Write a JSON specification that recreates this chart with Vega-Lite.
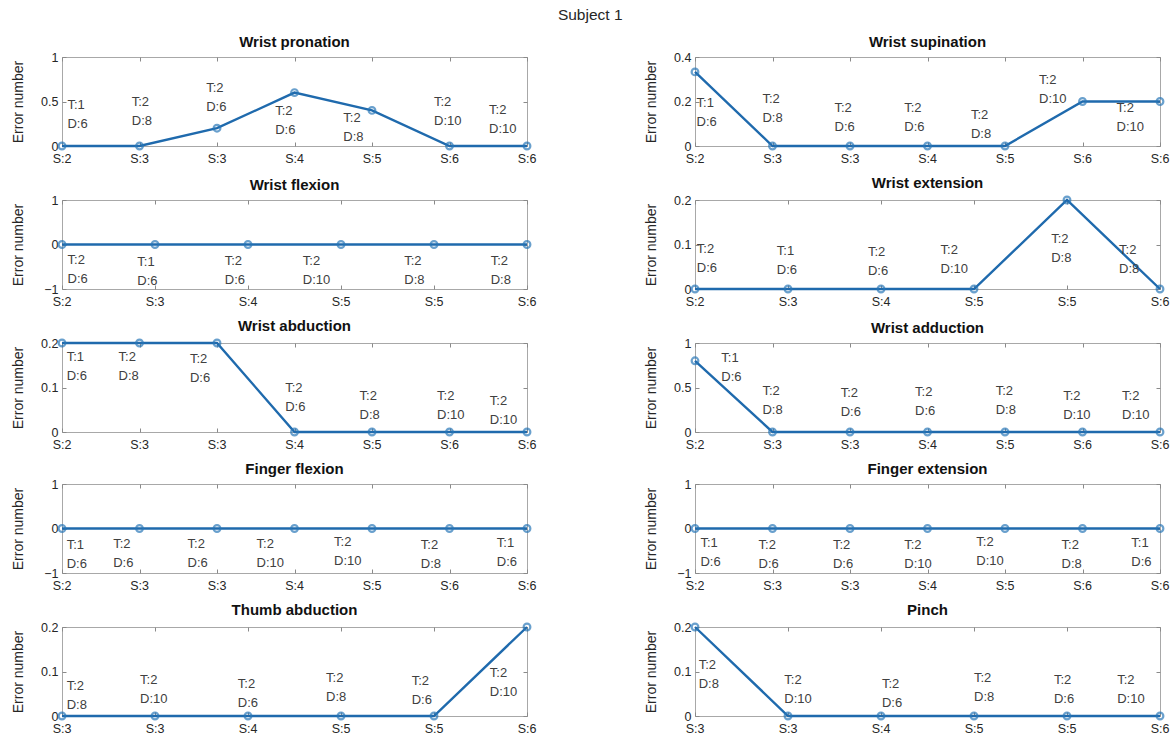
{
  "$schema": "https://vega.github.io/schema/vega-lite/v6.json",
  "padding": {"left": 10, "top": 8, "right": 0, "bottom": 0},
  "background": "white",
  "title": {"text": "Subject 1", "fontSize": 15.5, "fontWeight": "normal", "color": "#262626", "anchor": "middle", "offset": 11},
  "data": {"values": [
    {"p": "Wrist pronation", "i": 1, "s": "S:2", "v": 0, "tx": 1.07, "ty": 0.37, "lab": "T:1\nD:6"},
    {"p": "Wrist pronation", "i": 2, "s": "S:3", "v": 0, "tx": 1.9, "ty": 0.4, "lab": "T:2\nD:8"},
    {"p": "Wrist pronation", "i": 3, "s": "S:3", "v": 0.2, "tx": 2.86, "ty": 0.56, "lab": "T:2\nD:6"},
    {"p": "Wrist pronation", "i": 4, "s": "S:4", "v": 0.6, "tx": 3.75, "ty": 0.3, "lab": "T:2\nD:6"},
    {"p": "Wrist pronation", "i": 5, "s": "S:5", "v": 0.4, "tx": 4.63, "ty": 0.23, "lab": "T:2\nD:8"},
    {"p": "Wrist pronation", "i": 6, "s": "S:6", "v": 0, "tx": 5.8, "ty": 0.4, "lab": "T:2\nD:10"},
    {"p": "Wrist pronation", "i": 7, "s": "S:6", "v": 0, "tx": 6.51, "ty": 0.32, "lab": "T:2\nD:10"},
    {"p": "Wrist supination", "i": 1, "s": "S:2", "v": 0.333, "tx": 1.02, "ty": 0.158, "lab": "T:1\nD:6"},
    {"p": "Wrist supination", "i": 2, "s": "S:3", "v": 0, "tx": 1.87, "ty": 0.175, "lab": "T:2\nD:8"},
    {"p": "Wrist supination", "i": 3, "s": "S:3", "v": 0, "tx": 2.8, "ty": 0.133, "lab": "T:2\nD:6"},
    {"p": "Wrist supination", "i": 4, "s": "S:4", "v": 0, "tx": 3.7, "ty": 0.135, "lab": "T:2\nD:6"},
    {"p": "Wrist supination", "i": 5, "s": "S:5", "v": 0, "tx": 4.56, "ty": 0.105, "lab": "T:2\nD:8"},
    {"p": "Wrist supination", "i": 6, "s": "S:6", "v": 0.2, "tx": 5.44, "ty": 0.262, "lab": "T:2\nD:10"},
    {"p": "Wrist supination", "i": 7, "s": "S:6", "v": 0.2, "tx": 6.44, "ty": 0.133, "lab": "T:2\nD:10"},
    {"p": "Wrist flexion", "i": 1, "s": "S:2", "v": 0, "tx": 1.06, "ty": -0.53, "lab": "T:2\nD:6"},
    {"p": "Wrist flexion", "i": 2, "s": "S:3", "v": 0, "tx": 1.81, "ty": -0.57, "lab": "T:1\nD:6"},
    {"p": "Wrist flexion", "i": 3, "s": "S:4", "v": 0, "tx": 2.75, "ty": -0.55, "lab": "T:2\nD:6"},
    {"p": "Wrist flexion", "i": 4, "s": "S:5", "v": 0, "tx": 3.59, "ty": -0.55, "lab": "T:2\nD:10"},
    {"p": "Wrist flexion", "i": 5, "s": "S:5", "v": 0, "tx": 4.68, "ty": -0.55, "lab": "T:2\nD:8"},
    {"p": "Wrist flexion", "i": 6, "s": "S:6", "v": 0, "tx": 5.61, "ty": -0.55, "lab": "T:2\nD:8"},
    {"p": "Wrist extension", "i": 1, "s": "S:2", "v": 0, "tx": 1.02, "ty": 0.072, "lab": "T:2\nD:6"},
    {"p": "Wrist extension", "i": 2, "s": "S:3", "v": 0, "tx": 1.88, "ty": 0.068, "lab": "T:1\nD:6"},
    {"p": "Wrist extension", "i": 3, "s": "S:4", "v": 0, "tx": 2.86, "ty": 0.066, "lab": "T:2\nD:6"},
    {"p": "Wrist extension", "i": 4, "s": "S:5", "v": 0, "tx": 3.64, "ty": 0.069, "lab": "T:2\nD:10"},
    {"p": "Wrist extension", "i": 5, "s": "S:5", "v": 0.2, "tx": 4.83, "ty": 0.095, "lab": "T:2\nD:8"},
    {"p": "Wrist extension", "i": 6, "s": "S:6", "v": 0, "tx": 5.56, "ty": 0.07, "lab": "T:2\nD:8"},
    {"p": "Wrist abduction", "i": 1, "s": "S:2", "v": 0.2, "tx": 1.06, "ty": 0.15, "lab": "T:1\nD:6"},
    {"p": "Wrist abduction", "i": 2, "s": "S:3", "v": 0.2, "tx": 1.73, "ty": 0.15, "lab": "T:2\nD:8"},
    {"p": "Wrist abduction", "i": 3, "s": "S:3", "v": 0.2, "tx": 2.65, "ty": 0.147, "lab": "T:2\nD:6"},
    {"p": "Wrist abduction", "i": 4, "s": "S:4", "v": 0, "tx": 3.88, "ty": 0.082, "lab": "T:2\nD:6"},
    {"p": "Wrist abduction", "i": 5, "s": "S:5", "v": 0, "tx": 4.84, "ty": 0.064, "lab": "T:2\nD:8"},
    {"p": "Wrist abduction", "i": 6, "s": "S:6", "v": 0, "tx": 5.84, "ty": 0.063, "lab": "T:2\nD:10"},
    {"p": "Wrist abduction", "i": 7, "s": "S:6", "v": 0, "tx": 6.52, "ty": 0.052, "lab": "T:2\nD:10"},
    {"p": "Wrist adduction", "i": 1, "s": "S:2", "v": 0.8, "tx": 1.34, "ty": 0.74, "lab": "T:1\nD:6"},
    {"p": "Wrist adduction", "i": 2, "s": "S:3", "v": 0, "tx": 1.87, "ty": 0.37, "lab": "T:2\nD:8"},
    {"p": "Wrist adduction", "i": 3, "s": "S:3", "v": 0, "tx": 2.88, "ty": 0.35, "lab": "T:2\nD:6"},
    {"p": "Wrist adduction", "i": 4, "s": "S:4", "v": 0, "tx": 3.84, "ty": 0.36, "lab": "T:2\nD:6"},
    {"p": "Wrist adduction", "i": 5, "s": "S:5", "v": 0, "tx": 4.88, "ty": 0.37, "lab": "T:2\nD:8"},
    {"p": "Wrist adduction", "i": 6, "s": "S:6", "v": 0, "tx": 5.75, "ty": 0.31, "lab": "T:2\nD:10"},
    {"p": "Wrist adduction", "i": 7, "s": "S:6", "v": 0, "tx": 6.51, "ty": 0.31, "lab": "T:2\nD:10"},
    {"p": "Finger flexion", "i": 1, "s": "S:2", "v": 0, "tx": 1.06, "ty": -0.56, "lab": "T:1\nD:6"},
    {"p": "Finger flexion", "i": 2, "s": "S:3", "v": 0, "tx": 1.66, "ty": -0.52, "lab": "T:2\nD:6"},
    {"p": "Finger flexion", "i": 3, "s": "S:3", "v": 0, "tx": 2.62, "ty": -0.52, "lab": "T:2\nD:6"},
    {"p": "Finger flexion", "i": 4, "s": "S:4", "v": 0, "tx": 3.51, "ty": -0.52, "lab": "T:2\nD:10"},
    {"p": "Finger flexion", "i": 5, "s": "S:5", "v": 0, "tx": 4.51, "ty": -0.48, "lab": "T:2\nD:10"},
    {"p": "Finger flexion", "i": 6, "s": "S:6", "v": 0, "tx": 5.63, "ty": -0.54, "lab": "T:2\nD:8"},
    {"p": "Finger flexion", "i": 7, "s": "S:6", "v": 0, "tx": 6.61, "ty": -0.5, "lab": "T:1\nD:6"},
    {"p": "Finger extension", "i": 1, "s": "S:2", "v": 0, "tx": 1.07, "ty": -0.51, "lab": "T:1\nD:6"},
    {"p": "Finger extension", "i": 2, "s": "S:3", "v": 0, "tx": 1.82, "ty": -0.55, "lab": "T:2\nD:6"},
    {"p": "Finger extension", "i": 3, "s": "S:3", "v": 0, "tx": 2.78, "ty": -0.55, "lab": "T:2\nD:6"},
    {"p": "Finger extension", "i": 4, "s": "S:4", "v": 0, "tx": 3.7, "ty": -0.54, "lab": "T:2\nD:10"},
    {"p": "Finger extension", "i": 5, "s": "S:5", "v": 0, "tx": 4.63, "ty": -0.49, "lab": "T:2\nD:10"},
    {"p": "Finger extension", "i": 6, "s": "S:6", "v": 0, "tx": 5.73, "ty": -0.54, "lab": "T:2\nD:8"},
    {"p": "Finger extension", "i": 7, "s": "S:6", "v": 0, "tx": 6.63, "ty": -0.5, "lab": "T:1\nD:6"},
    {"p": "Thumb abduction", "i": 1, "s": "S:3", "v": 0, "tx": 1.05, "ty": 0.05, "lab": "T:2\nD:8"},
    {"p": "Thumb abduction", "i": 2, "s": "S:3", "v": 0, "tx": 1.84, "ty": 0.062, "lab": "T:2\nD:10"},
    {"p": "Thumb abduction", "i": 3, "s": "S:4", "v": 0, "tx": 2.89, "ty": 0.054, "lab": "T:2\nD:6"},
    {"p": "Thumb abduction", "i": 4, "s": "S:5", "v": 0, "tx": 3.84, "ty": 0.067, "lab": "T:2\nD:8"},
    {"p": "Thumb abduction", "i": 5, "s": "S:5", "v": 0, "tx": 4.76, "ty": 0.06, "lab": "T:2\nD:6"},
    {"p": "Thumb abduction", "i": 6, "s": "S:6", "v": 0.2, "tx": 5.6, "ty": 0.079, "lab": "T:2\nD:10"},
    {"p": "Pinch", "i": 1, "s": "S:3", "v": 0.2, "tx": 1.04, "ty": 0.097, "lab": "T:2\nD:8"},
    {"p": "Pinch", "i": 2, "s": "S:3", "v": 0, "tx": 1.96, "ty": 0.063, "lab": "T:2\nD:10"},
    {"p": "Pinch", "i": 3, "s": "S:4", "v": 0, "tx": 3.01, "ty": 0.054, "lab": "T:2\nD:6"},
    {"p": "Pinch", "i": 4, "s": "S:5", "v": 0, "tx": 4.0, "ty": 0.068, "lab": "T:2\nD:8"},
    {"p": "Pinch", "i": 5, "s": "S:5", "v": 0, "tx": 4.86, "ty": 0.063, "lab": "T:2\nD:6"},
    {"p": "Pinch", "i": 6, "s": "S:6", "v": 0, "tx": 5.54, "ty": 0.063, "lab": "T:2\nD:10"}
  ]},
  "columns": 2,
  "spacing": {"row": 9, "column": 106},
  "concat": [
    {"title": {"text": "Wrist pronation"}, "width": 465, "height": 89,
     "transform": [{"filter": "datum.p == 'Wrist pronation'"}],
     "resolve": {"axis": {"x": "independent", "y": "independent"}},
     "layer": [
      {"mark": {"type": "line", "color": "#1f6aad", "strokeWidth": 2.4},
       "encoding": {"x": {"field": "i", "type": "quantitative", "title": null, "scale": {"domain": [1, 7], "nice": false, "zero": false}, "axis": {"values": [1, 2, 3, 4, 5, 6, 7]}},
                    "y": {"field": "v", "type": "quantitative", "title": "Error number", "scale": {"domain": [0, 1], "nice": false, "zero": false}, "axis": {"values": [0, 0.5, 1], "format": "~g"}}}},
      {"mark": {"type": "point", "shape": "circle", "filled": false, "size": 45, "strokeWidth": 2.2, "color": "#2a78b8"},
       "encoding": {"x": {"field": "i", "type": "quantitative", "axis": null}, "y": {"field": "v", "type": "quantitative", "axis": null}}},
      {"mark": {"type": "text", "align": "left", "baseline": "middle", "dy": -8, "fontSize": 13, "lineHeight": 19, "lineBreak": "\n", "color": "#404040"},
       "encoding": {"x": {"field": "tx", "type": "quantitative", "axis": null}, "y": {"field": "ty", "type": "quantitative", "axis": null}, "text": {"field": "lab"}}},
      {"mark": {"type": "text", "align": "center", "baseline": "middle", "dy": 13, "fontSize": 12.5, "color": "#262626"},
       "encoding": {"x": {"field": "i", "type": "quantitative", "axis": {"orient": "top", "values": [1, 2, 3, 4, 5, 6, 7], "title": null, "minExtent": 0, "maxExtent": 0}},
                    "y": {"datum": 0, "axis": {"orient": "right", "values": [0, 0.5, 1], "labels": false, "title": null, "minExtent": 0, "maxExtent": 0}}, "text": {"field": "s"}}}
     ]},
    {"title": {"text": "Wrist supination"}, "width": 465, "height": 89,
     "transform": [{"filter": "datum.p == 'Wrist supination'"}],
     "resolve": {"axis": {"x": "independent", "y": "independent"}},
     "layer": [
      {"mark": {"type": "line", "color": "#1f6aad", "strokeWidth": 2.4},
       "encoding": {"x": {"field": "i", "type": "quantitative", "title": null, "scale": {"domain": [1, 7], "nice": false, "zero": false}, "axis": {"values": [1, 2, 3, 4, 5, 6, 7]}},
                    "y": {"field": "v", "type": "quantitative", "title": "Error number", "scale": {"domain": [0, 0.4], "nice": false, "zero": false}, "axis": {"values": [0, 0.2, 0.4], "format": "~g"}}}},
      {"mark": {"type": "point", "shape": "circle", "filled": false, "size": 45, "strokeWidth": 2.2, "color": "#2a78b8"},
       "encoding": {"x": {"field": "i", "type": "quantitative", "axis": null}, "y": {"field": "v", "type": "quantitative", "axis": null}}},
      {"mark": {"type": "text", "align": "left", "baseline": "middle", "dy": -8, "fontSize": 13, "lineHeight": 19, "lineBreak": "\n", "color": "#404040"},
       "encoding": {"x": {"field": "tx", "type": "quantitative", "axis": null}, "y": {"field": "ty", "type": "quantitative", "axis": null}, "text": {"field": "lab"}}},
      {"mark": {"type": "text", "align": "center", "baseline": "middle", "dy": 13, "fontSize": 12.5, "color": "#262626"},
       "encoding": {"x": {"field": "i", "type": "quantitative", "axis": {"orient": "top", "values": [1, 2, 3, 4, 5, 6, 7], "title": null, "minExtent": 0, "maxExtent": 0}},
                    "y": {"datum": 0, "axis": {"orient": "right", "values": [0, 0.2, 0.4], "labels": false, "title": null, "minExtent": 0, "maxExtent": 0}}, "text": {"field": "s"}}}
     ]},
    {"title": {"text": "Wrist flexion"}, "width": 465, "height": 89,
     "transform": [{"filter": "datum.p == 'Wrist flexion'"}],
     "resolve": {"axis": {"x": "independent", "y": "independent"}},
     "layer": [
      {"mark": {"type": "line", "color": "#1f6aad", "strokeWidth": 2.4},
       "encoding": {"x": {"field": "i", "type": "quantitative", "title": null, "scale": {"domain": [1, 6], "nice": false, "zero": false}, "axis": {"values": [1, 2, 3, 4, 5, 6]}},
                    "y": {"field": "v", "type": "quantitative", "title": "Error number", "scale": {"domain": [-1, 1], "nice": false, "zero": false}, "axis": {"values": [-1, 0, 1], "format": "~g"}}}},
      {"mark": {"type": "point", "shape": "circle", "filled": false, "size": 45, "strokeWidth": 2.2, "color": "#2a78b8"},
       "encoding": {"x": {"field": "i", "type": "quantitative", "axis": null}, "y": {"field": "v", "type": "quantitative", "axis": null}}},
      {"mark": {"type": "text", "align": "left", "baseline": "middle", "dy": -8, "fontSize": 13, "lineHeight": 19, "lineBreak": "\n", "color": "#404040"},
       "encoding": {"x": {"field": "tx", "type": "quantitative", "axis": null}, "y": {"field": "ty", "type": "quantitative", "axis": null}, "text": {"field": "lab"}}},
      {"mark": {"type": "text", "align": "center", "baseline": "middle", "dy": 13, "fontSize": 12.5, "color": "#262626"},
       "encoding": {"x": {"field": "i", "type": "quantitative", "axis": {"orient": "top", "values": [1, 2, 3, 4, 5, 6], "title": null, "minExtent": 0, "maxExtent": 0}},
                    "y": {"datum": -1, "axis": {"orient": "right", "values": [-1, 0, 1], "labels": false, "title": null, "minExtent": 0, "maxExtent": 0}}, "text": {"field": "s"}}}
     ]},
    {"title": {"text": "Wrist extension"}, "width": 465, "height": 89,
     "transform": [{"filter": "datum.p == 'Wrist extension'"}],
     "resolve": {"axis": {"x": "independent", "y": "independent"}},
     "layer": [
      {"mark": {"type": "line", "color": "#1f6aad", "strokeWidth": 2.4},
       "encoding": {"x": {"field": "i", "type": "quantitative", "title": null, "scale": {"domain": [1, 6], "nice": false, "zero": false}, "axis": {"values": [1, 2, 3, 4, 5, 6]}},
                    "y": {"field": "v", "type": "quantitative", "title": "Error number", "scale": {"domain": [0, 0.2], "nice": false, "zero": false}, "axis": {"values": [0, 0.1, 0.2], "format": "~g"}}}},
      {"mark": {"type": "point", "shape": "circle", "filled": false, "size": 45, "strokeWidth": 2.2, "color": "#2a78b8"},
       "encoding": {"x": {"field": "i", "type": "quantitative", "axis": null}, "y": {"field": "v", "type": "quantitative", "axis": null}}},
      {"mark": {"type": "text", "align": "left", "baseline": "middle", "dy": -8, "fontSize": 13, "lineHeight": 19, "lineBreak": "\n", "color": "#404040"},
       "encoding": {"x": {"field": "tx", "type": "quantitative", "axis": null}, "y": {"field": "ty", "type": "quantitative", "axis": null}, "text": {"field": "lab"}}},
      {"mark": {"type": "text", "align": "center", "baseline": "middle", "dy": 13, "fontSize": 12.5, "color": "#262626"},
       "encoding": {"x": {"field": "i", "type": "quantitative", "axis": {"orient": "top", "values": [1, 2, 3, 4, 5, 6], "title": null, "minExtent": 0, "maxExtent": 0}},
                    "y": {"datum": 0, "axis": {"orient": "right", "values": [0, 0.1, 0.2], "labels": false, "title": null, "minExtent": 0, "maxExtent": 0}}, "text": {"field": "s"}}}
     ]},
    {"title": {"text": "Wrist abduction"}, "width": 465, "height": 89,
     "transform": [{"filter": "datum.p == 'Wrist abduction'"}],
     "resolve": {"axis": {"x": "independent", "y": "independent"}},
     "layer": [
      {"mark": {"type": "line", "color": "#1f6aad", "strokeWidth": 2.4},
       "encoding": {"x": {"field": "i", "type": "quantitative", "title": null, "scale": {"domain": [1, 7], "nice": false, "zero": false}, "axis": {"values": [1, 2, 3, 4, 5, 6, 7]}},
                    "y": {"field": "v", "type": "quantitative", "title": "Error number", "scale": {"domain": [0, 0.2], "nice": false, "zero": false}, "axis": {"values": [0, 0.1, 0.2], "format": "~g"}}}},
      {"mark": {"type": "point", "shape": "circle", "filled": false, "size": 45, "strokeWidth": 2.2, "color": "#2a78b8"},
       "encoding": {"x": {"field": "i", "type": "quantitative", "axis": null}, "y": {"field": "v", "type": "quantitative", "axis": null}}},
      {"mark": {"type": "text", "align": "left", "baseline": "middle", "dy": -8, "fontSize": 13, "lineHeight": 19, "lineBreak": "\n", "color": "#404040"},
       "encoding": {"x": {"field": "tx", "type": "quantitative", "axis": null}, "y": {"field": "ty", "type": "quantitative", "axis": null}, "text": {"field": "lab"}}},
      {"mark": {"type": "text", "align": "center", "baseline": "middle", "dy": 13, "fontSize": 12.5, "color": "#262626"},
       "encoding": {"x": {"field": "i", "type": "quantitative", "axis": {"orient": "top", "values": [1, 2, 3, 4, 5, 6, 7], "title": null, "minExtent": 0, "maxExtent": 0}},
                    "y": {"datum": 0, "axis": {"orient": "right", "values": [0, 0.1, 0.2], "labels": false, "title": null, "minExtent": 0, "maxExtent": 0}}, "text": {"field": "s"}}}
     ]},
    {"title": {"text": "Wrist adduction"}, "width": 465, "height": 89,
     "transform": [{"filter": "datum.p == 'Wrist adduction'"}],
     "resolve": {"axis": {"x": "independent", "y": "independent"}},
     "layer": [
      {"mark": {"type": "line", "color": "#1f6aad", "strokeWidth": 2.4},
       "encoding": {"x": {"field": "i", "type": "quantitative", "title": null, "scale": {"domain": [1, 7], "nice": false, "zero": false}, "axis": {"values": [1, 2, 3, 4, 5, 6, 7]}},
                    "y": {"field": "v", "type": "quantitative", "title": "Error number", "scale": {"domain": [0, 1], "nice": false, "zero": false}, "axis": {"values": [0, 0.5, 1], "format": "~g"}}}},
      {"mark": {"type": "point", "shape": "circle", "filled": false, "size": 45, "strokeWidth": 2.2, "color": "#2a78b8"},
       "encoding": {"x": {"field": "i", "type": "quantitative", "axis": null}, "y": {"field": "v", "type": "quantitative", "axis": null}}},
      {"mark": {"type": "text", "align": "left", "baseline": "middle", "dy": -8, "fontSize": 13, "lineHeight": 19, "lineBreak": "\n", "color": "#404040"},
       "encoding": {"x": {"field": "tx", "type": "quantitative", "axis": null}, "y": {"field": "ty", "type": "quantitative", "axis": null}, "text": {"field": "lab"}}},
      {"mark": {"type": "text", "align": "center", "baseline": "middle", "dy": 13, "fontSize": 12.5, "color": "#262626"},
       "encoding": {"x": {"field": "i", "type": "quantitative", "axis": {"orient": "top", "values": [1, 2, 3, 4, 5, 6, 7], "title": null, "minExtent": 0, "maxExtent": 0}},
                    "y": {"datum": 0, "axis": {"orient": "right", "values": [0, 0.5, 1], "labels": false, "title": null, "minExtent": 0, "maxExtent": 0}}, "text": {"field": "s"}}}
     ]},
    {"title": {"text": "Finger flexion"}, "width": 465, "height": 89,
     "transform": [{"filter": "datum.p == 'Finger flexion'"}],
     "resolve": {"axis": {"x": "independent", "y": "independent"}},
     "layer": [
      {"mark": {"type": "line", "color": "#1f6aad", "strokeWidth": 2.4},
       "encoding": {"x": {"field": "i", "type": "quantitative", "title": null, "scale": {"domain": [1, 7], "nice": false, "zero": false}, "axis": {"values": [1, 2, 3, 4, 5, 6, 7]}},
                    "y": {"field": "v", "type": "quantitative", "title": "Error number", "scale": {"domain": [-1, 1], "nice": false, "zero": false}, "axis": {"values": [-1, 0, 1], "format": "~g"}}}},
      {"mark": {"type": "point", "shape": "circle", "filled": false, "size": 45, "strokeWidth": 2.2, "color": "#2a78b8"},
       "encoding": {"x": {"field": "i", "type": "quantitative", "axis": null}, "y": {"field": "v", "type": "quantitative", "axis": null}}},
      {"mark": {"type": "text", "align": "left", "baseline": "middle", "dy": -8, "fontSize": 13, "lineHeight": 19, "lineBreak": "\n", "color": "#404040"},
       "encoding": {"x": {"field": "tx", "type": "quantitative", "axis": null}, "y": {"field": "ty", "type": "quantitative", "axis": null}, "text": {"field": "lab"}}},
      {"mark": {"type": "text", "align": "center", "baseline": "middle", "dy": 13, "fontSize": 12.5, "color": "#262626"},
       "encoding": {"x": {"field": "i", "type": "quantitative", "axis": {"orient": "top", "values": [1, 2, 3, 4, 5, 6, 7], "title": null, "minExtent": 0, "maxExtent": 0}},
                    "y": {"datum": -1, "axis": {"orient": "right", "values": [-1, 0, 1], "labels": false, "title": null, "minExtent": 0, "maxExtent": 0}}, "text": {"field": "s"}}}
     ]},
    {"title": {"text": "Finger extension"}, "width": 465, "height": 89,
     "transform": [{"filter": "datum.p == 'Finger extension'"}],
     "resolve": {"axis": {"x": "independent", "y": "independent"}},
     "layer": [
      {"mark": {"type": "line", "color": "#1f6aad", "strokeWidth": 2.4},
       "encoding": {"x": {"field": "i", "type": "quantitative", "title": null, "scale": {"domain": [1, 7], "nice": false, "zero": false}, "axis": {"values": [1, 2, 3, 4, 5, 6, 7]}},
                    "y": {"field": "v", "type": "quantitative", "title": "Error number", "scale": {"domain": [-1, 1], "nice": false, "zero": false}, "axis": {"values": [-1, 0, 1], "format": "~g"}}}},
      {"mark": {"type": "point", "shape": "circle", "filled": false, "size": 45, "strokeWidth": 2.2, "color": "#2a78b8"},
       "encoding": {"x": {"field": "i", "type": "quantitative", "axis": null}, "y": {"field": "v", "type": "quantitative", "axis": null}}},
      {"mark": {"type": "text", "align": "left", "baseline": "middle", "dy": -8, "fontSize": 13, "lineHeight": 19, "lineBreak": "\n", "color": "#404040"},
       "encoding": {"x": {"field": "tx", "type": "quantitative", "axis": null}, "y": {"field": "ty", "type": "quantitative", "axis": null}, "text": {"field": "lab"}}},
      {"mark": {"type": "text", "align": "center", "baseline": "middle", "dy": 13, "fontSize": 12.5, "color": "#262626"},
       "encoding": {"x": {"field": "i", "type": "quantitative", "axis": {"orient": "top", "values": [1, 2, 3, 4, 5, 6, 7], "title": null, "minExtent": 0, "maxExtent": 0}},
                    "y": {"datum": -1, "axis": {"orient": "right", "values": [-1, 0, 1], "labels": false, "title": null, "minExtent": 0, "maxExtent": 0}}, "text": {"field": "s"}}}
     ]},
    {"title": {"text": "Thumb abduction"}, "width": 465, "height": 89,
     "transform": [{"filter": "datum.p == 'Thumb abduction'"}],
     "resolve": {"axis": {"x": "independent", "y": "independent"}},
     "layer": [
      {"mark": {"type": "line", "color": "#1f6aad", "strokeWidth": 2.4},
       "encoding": {"x": {"field": "i", "type": "quantitative", "title": null, "scale": {"domain": [1, 6], "nice": false, "zero": false}, "axis": {"values": [1, 2, 3, 4, 5, 6]}},
                    "y": {"field": "v", "type": "quantitative", "title": "Error number", "scale": {"domain": [0, 0.2], "nice": false, "zero": false}, "axis": {"values": [0, 0.1, 0.2], "format": "~g"}}}},
      {"mark": {"type": "point", "shape": "circle", "filled": false, "size": 45, "strokeWidth": 2.2, "color": "#2a78b8"},
       "encoding": {"x": {"field": "i", "type": "quantitative", "axis": null}, "y": {"field": "v", "type": "quantitative", "axis": null}}},
      {"mark": {"type": "text", "align": "left", "baseline": "middle", "dy": -8, "fontSize": 13, "lineHeight": 19, "lineBreak": "\n", "color": "#404040"},
       "encoding": {"x": {"field": "tx", "type": "quantitative", "axis": null}, "y": {"field": "ty", "type": "quantitative", "axis": null}, "text": {"field": "lab"}}},
      {"mark": {"type": "text", "align": "center", "baseline": "middle", "dy": 13, "fontSize": 12.5, "color": "#262626"},
       "encoding": {"x": {"field": "i", "type": "quantitative", "axis": {"orient": "top", "values": [1, 2, 3, 4, 5, 6], "title": null, "minExtent": 0, "maxExtent": 0}},
                    "y": {"datum": 0, "axis": {"orient": "right", "values": [0, 0.1, 0.2], "labels": false, "title": null, "minExtent": 0, "maxExtent": 0}}, "text": {"field": "s"}}}
     ]},
    {"title": {"text": "Pinch"}, "width": 465, "height": 89,
     "transform": [{"filter": "datum.p == 'Pinch'"}],
     "resolve": {"axis": {"x": "independent", "y": "independent"}},
     "layer": [
      {"mark": {"type": "line", "color": "#1f6aad", "strokeWidth": 2.4},
       "encoding": {"x": {"field": "i", "type": "quantitative", "title": null, "scale": {"domain": [1, 6], "nice": false, "zero": false}, "axis": {"values": [1, 2, 3, 4, 5, 6]}},
                    "y": {"field": "v", "type": "quantitative", "title": "Error number", "scale": {"domain": [0, 0.2], "nice": false, "zero": false}, "axis": {"values": [0, 0.1, 0.2], "format": "~g"}}}},
      {"mark": {"type": "point", "shape": "circle", "filled": false, "size": 45, "strokeWidth": 2.2, "color": "#2a78b8"},
       "encoding": {"x": {"field": "i", "type": "quantitative", "axis": null}, "y": {"field": "v", "type": "quantitative", "axis": null}}},
      {"mark": {"type": "text", "align": "left", "baseline": "middle", "dy": -8, "fontSize": 13, "lineHeight": 19, "lineBreak": "\n", "color": "#404040"},
       "encoding": {"x": {"field": "tx", "type": "quantitative", "axis": null}, "y": {"field": "ty", "type": "quantitative", "axis": null}, "text": {"field": "lab"}}},
      {"mark": {"type": "text", "align": "center", "baseline": "middle", "dy": 13, "fontSize": 12.5, "color": "#262626"},
       "encoding": {"x": {"field": "i", "type": "quantitative", "axis": {"orient": "top", "values": [1, 2, 3, 4, 5, 6], "title": null, "minExtent": 0, "maxExtent": 0}},
                    "y": {"datum": 0, "axis": {"orient": "right", "values": [0, 0.1, 0.2], "labels": false, "title": null, "minExtent": 0, "maxExtent": 0}}, "text": {"field": "s"}}}
     ]}
  ],
  "config": {
    "font": "Liberation Sans",
    "view": {"stroke": "#a8a8a8", "strokeWidth": 1},
    "axis": {"grid": false, "domain": false, "tickSize": -4, "tickColor": "#8a8a8a", "labelFont": "Liberation Sans", "labelFontSize": 12.5, "labelColor": "#262626", "titleFont": "Liberation Sans", "titleFontSize": 14, "titleFontWeight": "normal", "titleColor": "#262626"},
    "axisX": {"labels": false},
    "axisY": {"labelPadding": 8, "minExtent": 24, "maxExtent": 24, "titlePadding": 13},
    "title": {"fontSize": 15, "fontWeight": "bold", "color": "#111111", "offset": 1}
  }
}
